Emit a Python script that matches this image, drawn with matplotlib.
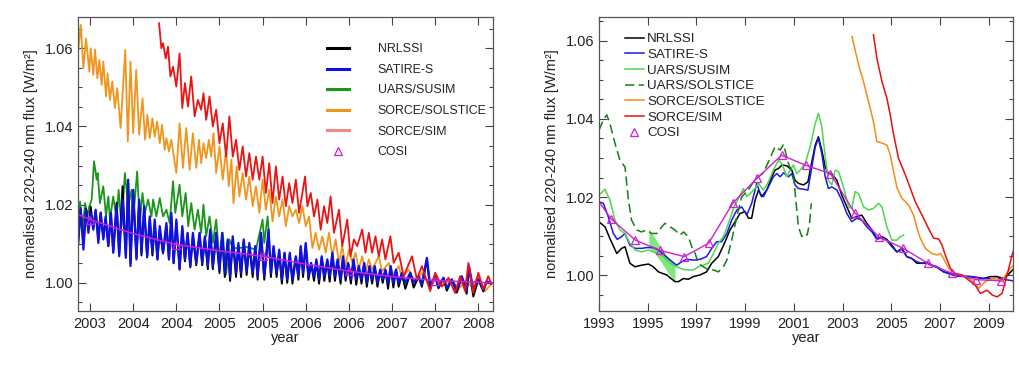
import matplotlib
matplotlib.use("Agg")
from matplotlib import pyplot as plt
from matplotlib.lines import Line2D
from matplotlib.ticker import MultipleLocator, FixedLocator

plt.rcParams['font.family'] = ['Liberation Sans', 'DejaVu Sans']

# ---------------- left panel: daily-ish data 2003-2008 ----------------
sat_years = [
    2002.862, 2002.892, 2002.923, 2002.954, 2002.981, 2003.008, 2003.038, 2003.065, 2003.096, 2003.123,
    2003.154, 2003.181, 2003.212, 2003.242, 2003.269, 2003.308, 2003.338, 2003.377, 2003.415, 2003.442,
    2003.469, 2003.500, 2003.538, 2003.569, 2003.596, 2003.627, 2003.662, 2003.692, 2003.723, 2003.750,
    2003.781, 2003.808, 2003.846, 2003.885, 2003.915, 2003.942, 2003.969, 2004.000, 2004.038, 2004.069,
    2004.100, 2004.131, 2004.162, 2004.192, 2004.231, 2004.269, 2004.300, 2004.331, 2004.365, 2004.392,
    2004.423, 2004.462, 2004.500, 2004.531, 2004.562, 2004.596, 2004.623, 2004.654, 2004.692, 2004.719,
    2004.750, 2004.781, 2004.815, 2004.846, 2004.885, 2004.915, 2004.942, 2004.981, 2005.019, 2005.069,
    2005.096, 2005.127, 2005.162, 2005.192, 2005.223, 2005.254, 2005.285, 2005.315, 2005.346, 2005.385,
    2005.415, 2005.442, 2005.469, 2005.500, 2005.531, 2005.562, 2005.596, 2005.623, 2005.654, 2005.685,
    2005.715, 2005.750, 2005.777, 2005.808, 2005.838, 2005.869, 2005.904, 2005.931, 2005.962, 2005.992,
    2006.023, 2006.054, 2006.085, 2006.115, 2006.146, 2006.177, 2006.208, 2006.238, 2006.269, 2006.300,
    2006.331, 2006.362, 2006.392, 2006.423, 2006.454, 2006.485, 2006.515, 2006.546, 2006.577, 2006.615,
    2006.654, 2006.712, 2006.750, 2006.808, 2006.846, 2006.904, 2006.942, 2007.000, 2007.038, 2007.096,
    2007.135, 2007.192, 2007.250, 2007.308, 2007.365, 2007.392, 2007.442, 2007.500, 2007.558, 2007.596,
    2007.646]
satire_l = [
    1.0098, 1.0191, 1.0085, 1.0187, 1.0128, 1.0179, 1.0136, 1.0187, 1.0102, 1.0179,
    1.0111, 1.0170, 1.0094, 1.0179, 1.0077, 1.0196, 1.0068, 1.0213, 1.0064, 1.0264,
    1.0043, 1.0238, 1.0060, 1.0213, 1.0077, 1.0196, 1.0068, 1.0170, 1.0077, 1.0162,
    1.0060, 1.0145, 1.0077, 1.0153, 1.0060, 1.0179, 1.0051, 1.0162, 1.0034, 1.0145,
    1.0060, 1.0128, 1.0043, 1.0128, 1.0051, 1.0128, 1.0051, 1.0119, 1.0043, 1.0136,
    1.0043, 1.0128, 1.0034, 1.0128, 1.0026, 1.0111, 1.0017, 1.0119, 1.0026, 1.0102,
    1.0026, 1.0111, 1.0030, 1.0102, 1.0026, 1.0094, 1.0017, 1.0128, 1.0017, 1.0136,
    1.0026, 1.0094, 1.0026, 1.0085, 1.0009, 1.0077, 1.0009, 1.0077, 1.0009, 1.0068,
    1.0017, 1.0094, 1.0026, 1.0102, 1.0017, 1.0051, 1.0017, 1.0060, 1.0009, 1.0068,
    1.0017, 1.0060, 1.0017, 1.0077, 1.0017, 1.0060, 1.0009, 1.0068, 1.0017, 1.0051,
    1.0009, 1.0060, 1.0009, 1.0043, 1.0009, 1.0051, 1.0000, 1.0043, 1.0009, 1.0043,
    1.0000, 1.0034, 1.0009, 1.0034, 1.0000, 1.0043, 1.0000, 1.0034, 1.0000, 1.0026,
    1.0000, 1.0026, 1.0000, 1.0017, 0.9996, 1.0064, 0.9991, 1.0017, 0.9991, 1.0013,
    0.9987, 1.0009, 0.9983, 1.0017, 0.9979, 1.0043, 0.9983, 1.0009, 0.9983, 1.0004,
    1.0000]
nrlssi_l = [
    1.0105, 1.0185, 1.0100, 1.0190, 1.0140, 1.0195, 1.0140, 1.0185, 1.0110, 1.0180,
    1.0115, 1.0165, 1.0095, 1.0175, 1.0080, 1.0205, 1.0075, 1.0247, 1.0070, 1.0255,
    1.0050, 1.0235, 1.0065, 1.0210, 1.0070, 1.0190, 1.0065, 1.0160, 1.0070, 1.0150,
    1.0060, 1.0135, 1.0075, 1.0145, 1.0060, 1.0170, 1.0050, 1.0155, 1.0035, 1.0140,
    1.0055, 1.0125, 1.0040, 1.0120, 1.0045, 1.0125, 1.0045, 1.0115, 1.0035, 1.0130,
    1.0035, 1.0120, 1.0025, 1.0120, 1.0015, 1.0105, 1.0005, 1.0110, 1.0015, 1.0095,
    1.0015, 1.0105, 1.0020, 1.0095, 1.0015, 1.0090, 1.0008, 1.0125, 1.0008, 1.0130,
    1.0015, 1.0090, 1.0015, 1.0080, 0.9998, 1.0075, 1.0000, 1.0072, 0.9998, 1.0065,
    1.0008, 1.0090, 1.0015, 1.0098, 1.0008, 1.0048, 1.0005, 1.0055, 0.9998, 1.0063,
    1.0005, 1.0055, 1.0003, 1.0070, 1.0005, 1.0055, 0.9998, 1.0062, 1.0005, 1.0048,
    0.9998, 1.0058, 0.9995, 1.0040, 0.9998, 1.0048, 0.9990, 1.0040, 0.9998, 1.0040,
    0.9990, 1.0032, 1.0000, 1.0032, 0.9985, 1.0040, 0.9988, 1.0032, 0.9990, 1.0022,
    0.9985, 1.0024, 0.9988, 1.0015, 0.9990, 1.0060, 0.9985, 1.0015, 0.9986, 1.0012,
    0.9980, 1.0008, 0.9975, 1.0015, 0.9972, 1.0040, 0.9965, 1.0008, 0.9978, 1.0003,
    0.9998]

susim_l_years = [
    2002.862, 2002.885, 2002.915, 2002.942, 2002.969, 2002.992, 2003.019, 2003.046, 2003.077, 2003.088,
    2003.115, 2003.154, 2003.185, 2003.212, 2003.231, 2003.269, 2003.308, 2003.331, 2003.365, 2003.404,
    2003.442, 2003.481, 2003.500, 2003.546, 2003.577, 2003.608, 2003.635, 2003.673, 2003.712, 2003.731,
    2003.769, 2003.808, 2003.846, 2003.885, 2003.923, 2003.962, 2003.988, 2004.038, 2004.069, 2004.108,
    2004.138, 2004.173, 2004.212, 2004.250, 2004.288, 2004.315, 2004.346, 2004.385, 2004.423, 2004.462,
    2004.500, 2004.538, 2004.577, 2004.615, 2004.654, 2004.731, 2004.808, 2004.923, 2005.000, 2005.019,
    2005.058, 2005.069]
susim_l = [
    1.0145, 1.0208, 1.0136, 1.0204, 1.0170, 1.0196, 1.0213, 1.0311, 1.0264, 1.0281,
    1.0204, 1.0247, 1.0170, 1.0221, 1.0162, 1.0221, 1.0162, 1.0238, 1.0145, 1.0281,
    1.0196, 1.0238, 1.0162, 1.0285, 1.0153, 1.0230, 1.0179, 1.0213, 1.0170, 1.0213,
    1.0170, 1.0217, 1.0170, 1.0187, 1.0153, 1.0260, 1.0179, 1.0251, 1.0170, 1.0230,
    1.0145, 1.0204, 1.0136, 1.0187, 1.0128, 1.0200, 1.0119, 1.0170, 1.0102, 1.0162,
    1.0060, 1.0128, 1.0021, 1.0111, 1.0089, 1.0089, 1.0092, 1.0085, 1.0162, 1.0102,
    1.0170, 1.0136]

solstice_l_years = [
    2002.862, 2002.892, 2002.923, 2002.954, 2002.992, 2003.008, 2003.038, 2003.058, 2003.085, 2003.108,
    2003.135, 2003.154, 2003.185, 2003.204, 2003.231, 2003.258, 2003.288, 2003.315, 2003.354, 2003.408,
    2003.438, 2003.469, 2003.500, 2003.535, 2003.569, 2003.608, 2003.638, 2003.665, 2003.692, 2003.723,
    2003.750, 2003.777, 2003.808, 2003.835, 2003.865, 2003.885, 2003.915, 2003.942, 2004.000, 2004.038,
    2004.077, 2004.115, 2004.154, 2004.192, 2004.231, 2004.262, 2004.288, 2004.315, 2004.346, 2004.377,
    2004.404, 2004.431, 2004.462, 2004.500, 2004.538, 2004.577, 2004.608, 2004.638, 2004.662, 2004.700,
    2004.731, 2004.769, 2004.808, 2004.846, 2004.885, 2004.923, 2004.962, 2005.000, 2005.038, 2005.077,
    2005.115, 2005.154, 2005.192, 2005.231, 2005.269, 2005.308, 2005.346, 2005.385, 2005.423, 2005.462,
    2005.500, 2005.538, 2005.577, 2005.615, 2005.654, 2005.692, 2005.731, 2005.769, 2005.808, 2005.846,
    2005.885, 2005.923, 2005.962, 2006.000, 2006.038, 2006.077, 2006.115, 2006.154, 2006.192, 2006.231,
    2006.269, 2006.346, 2006.385, 2006.462, 2006.500, 2006.577, 2006.615, 2006.692, 2006.769, 2006.846,
    2006.923, 2007.000, 2007.077, 2007.192, 2007.269, 2007.346, 2007.423, 2007.500, 2007.577, 2007.646]
solstice_l = [
    1.0591, 1.0660, 1.0549, 1.0625, 1.0540, 1.0600, 1.0532, 1.0597, 1.0523, 1.0570,
    1.0506, 1.0566, 1.0477, 1.0536, 1.0468, 1.0515, 1.0447, 1.0498, 1.0396, 1.0596,
    1.0362, 1.0566, 1.0383, 1.0545, 1.0379, 1.0472, 1.0366, 1.0430, 1.0370, 1.0421,
    1.0374, 1.0413, 1.0357, 1.0404, 1.0340, 1.0370, 1.0336, 1.0366, 1.0281, 1.0408,
    1.0294, 1.0396, 1.0289, 1.0383, 1.0294, 1.0366, 1.0306, 1.0357, 1.0319, 1.0366,
    1.0323, 1.0383, 1.0281, 1.0349, 1.0264, 1.0340, 1.0247, 1.0315, 1.0204, 1.0298,
    1.0221, 1.0281, 1.0213, 1.0272, 1.0196, 1.0247, 1.0179, 1.0264, 1.0187, 1.0238,
    1.0157, 1.0221, 1.0170, 1.0213, 1.0145, 1.0196, 1.0170, 1.0187, 1.0153, 1.0196,
    1.0145, 1.0170, 1.0089, 1.0128, 1.0085, 1.0119, 1.0077, 1.0128, 1.0068, 1.0111,
    1.0051, 1.0094, 1.0043, 1.0085, 1.0051, 1.0077, 1.0034, 1.0068, 1.0026, 1.0060,
    1.0034, 1.0068, 1.0030, 1.0051, 1.0017, 1.0043, 1.0013, 1.0034, 1.0000, 1.0026,
    0.9996, 1.0017, 0.9991, 1.0009, 0.9983, 1.0004, 0.9991, 1.0017, 0.9979, 0.9996]

sim_l_years = [
    2003.800, 2003.827, 2003.846, 2003.877, 2003.904, 2003.931, 2003.962, 2004.000, 2004.038, 2004.069,
    2004.100, 2004.135, 2004.173, 2004.212, 2004.250, 2004.288, 2004.315, 2004.346, 2004.385, 2004.423,
    2004.462, 2004.500, 2004.538, 2004.577, 2004.615, 2004.654, 2004.692, 2004.731, 2004.769, 2004.808,
    2004.846, 2004.885, 2004.923, 2004.962, 2005.000, 2005.038, 2005.077, 2005.115, 2005.154, 2005.192,
    2005.231, 2005.269, 2005.308, 2005.346, 2005.385, 2005.423, 2005.492, 2005.519, 2005.558, 2005.596,
    2005.635, 2005.673, 2005.712, 2005.750, 2005.788, 2005.827, 2005.885, 2005.923, 2005.981, 2006.019,
    2006.058, 2006.096, 2006.154, 2006.192, 2006.231, 2006.269, 2006.308, 2006.346, 2006.385, 2006.423,
    2006.481, 2006.519, 2006.577, 2006.635, 2006.731, 2006.788, 2006.846, 2006.942, 2007.000, 2007.077,
    2007.154, 2007.231, 2007.288, 2007.346, 2007.385, 2007.442, 2007.500, 2007.558, 2007.615, 2007.646]
sim_l = [
    1.0664, 1.0600, 1.0613, 1.0574, 1.0604, 1.0528, 1.0553, 1.0502, 1.0587, 1.0447,
    1.0511, 1.0451, 1.0528, 1.0426, 1.0468, 1.0443, 1.0485, 1.0417, 1.0477, 1.0400,
    1.0443, 1.0357, 1.0408, 1.0323, 1.0426, 1.0323, 1.0366, 1.0289, 1.0349, 1.0272,
    1.0332, 1.0264, 1.0323, 1.0264, 1.0323, 1.0230, 1.0306, 1.0204, 1.0298, 1.0213,
    1.0272, 1.0196, 1.0255, 1.0204, 1.0264, 1.0179, 1.0272, 1.0196, 1.0230, 1.0170,
    1.0213, 1.0136, 1.0196, 1.0153, 1.0221, 1.0128, 1.0187, 1.0094, 1.0162, 1.0068,
    1.0111, 1.0094, 1.0136, 1.0077, 1.0128, 1.0077, 1.0119, 1.0068, 1.0111, 1.0060,
    1.0119, 1.0051, 1.0077, 1.0017, 1.0068, 1.0009, 1.0043, 0.9979, 1.0026, 0.9991,
    1.0013, 0.9974, 1.0017, 0.9979, 1.0051, 0.9974, 1.0026, 0.9983, 1.0017, 1.0000]

cosi_l_years = [2002.86, 2003.0, 2003.5, 2004.0, 2004.5, 2005.0, 2005.5, 2006.0, 2006.5, 2007.0, 2007.67]
cosi_l = [1.0175, 1.0162, 1.0126, 1.0098, 1.0082, 1.0068, 1.0048, 1.0030, 1.0016, 1.0006, 1.0000]

left_ticks = [2003.0, 2003.5, 2004.0, 2004.5, 2005.0, 2005.5, 2006.0, 2006.5, 2007.0, 2007.5]
left_ticklabels = ['2003', '2004', '2004', '2005', '2005', '2006', '2006', '2007', '2007', '2008']

# ---------------- right panel: smoothed 1993-2010 ----------------
nrl_r_years = [
    1993.00, 1993.25, 1993.45, 1993.73, 1993.93, 1994.07, 1994.27, 1994.48, 1994.75, 1995.03,
    1995.23, 1995.44, 1995.78, 1996.12, 1996.26, 1996.47, 1996.67, 1996.88, 1997.15, 1997.42,
    1997.63, 1997.90, 1998.18, 1998.38, 1998.59, 1998.79, 1999.00, 1999.14, 1999.27, 1999.41,
    1999.55, 1999.68, 1999.89, 2000.10, 2000.23, 2000.37, 2000.51, 2000.71, 2000.92, 2001.05,
    2001.19, 2001.40, 2001.58, 2001.74, 2001.88, 2002.01, 2002.15, 2002.29, 2002.42, 2002.56,
    2002.77, 2002.97, 2003.18, 2003.38, 2003.59, 2003.79, 2004.00, 2004.21, 2004.41, 2004.62,
    2004.82, 2005.03, 2005.23, 2005.44, 2005.64, 2005.85, 2006.05, 2006.26, 2006.47, 2006.67,
    2006.88, 2007.15, 2007.42, 2007.70, 2007.97, 2008.25, 2008.52, 2008.79, 2009.07, 2009.34,
    2009.62, 2009.82, 2010.00]
nrl_r = [
    1.0137, 1.0124, 1.0094, 1.0056, 1.0069, 1.0073, 1.0031, 1.0022, 1.0026, 1.0029,
    1.0022, 1.0009, 1.0001, 0.9984, 0.9984, 0.9992, 0.9990, 0.9997, 1.0001, 1.0009,
    1.0031, 1.0048, 1.0086, 1.0116, 1.0137, 1.0158, 1.0163, 1.0146, 1.0146, 1.0192,
    1.0218, 1.0201, 1.0218, 1.0252, 1.0269, 1.0273, 1.0282, 1.0280, 1.0269, 1.0243,
    1.0235, 1.0231, 1.0239, 1.0290, 1.0333, 1.0354, 1.0320, 1.0277, 1.0260, 1.0260,
    1.0243, 1.0205, 1.0175, 1.0146, 1.0150, 1.0154, 1.0133, 1.0116, 1.0094, 1.0099,
    1.0092, 1.0077, 1.0060, 1.0069, 1.0048, 1.0043, 1.0031, 1.0031, 1.0033, 1.0026,
    1.0022, 1.0009, 1.0005, 1.0001, 0.9998, 0.9997, 0.9995, 0.9992, 0.9997, 0.9997,
    0.9992, 1.0003, 1.0015]

sat_r_years = [
    1993.00, 1993.18, 1993.38, 1993.59, 1993.75, 1993.93, 1994.07, 1994.27, 1994.48, 1994.75,
    1994.96, 1995.23, 1995.44, 1995.64, 1995.92, 1996.19, 1996.40, 1996.60, 1996.88, 1997.15,
    1997.42, 1997.63, 1997.84, 1998.04, 1998.25, 1998.45, 1998.66, 1998.86, 1999.07, 1999.27,
    1999.48, 1999.62, 1999.75, 1999.96, 2000.16, 2000.30, 2000.44, 2000.58, 2000.78, 2000.92,
    2001.05, 2001.19, 2001.40, 2001.58, 2001.74, 2001.88, 2002.01, 2002.15, 2002.29, 2002.42,
    2002.56, 2002.77, 2002.97, 2003.18, 2003.38, 2003.59, 2003.79, 2004.00, 2004.21, 2004.41,
    2004.62, 2004.82, 2005.03, 2005.23, 2005.44, 2005.64, 2005.85, 2006.05, 2006.26, 2006.47,
    2006.67, 2006.88, 2007.15, 2007.42, 2007.70, 2007.97, 2008.25, 2008.52, 2008.79, 2009.07,
    2009.34, 2009.62, 2010.00]
sat_r = [
    1.0188, 1.0184, 1.0150, 1.0107, 1.0092, 1.0099, 1.0107, 1.0077, 1.0069, 1.0069,
    1.0071, 1.0071, 1.0065, 1.0054, 1.0039, 1.0026, 1.0035, 1.0041, 1.0039, 1.0041,
    1.0048, 1.0069, 1.0086, 1.0086, 1.0107, 1.0141, 1.0167, 1.0175, 1.0154, 1.0184,
    1.0235, 1.0209, 1.0201, 1.0226, 1.0252, 1.0260, 1.0252, 1.0262, 1.0252, 1.0260,
    1.0231, 1.0222, 1.0220, 1.0218, 1.0277, 1.0328, 1.0350, 1.0311, 1.0252, 1.0222,
    1.0226, 1.0218, 1.0192, 1.0158, 1.0137, 1.0146, 1.0141, 1.0124, 1.0111, 1.0092,
    1.0097, 1.0089, 1.0073, 1.0060, 1.0066, 1.0048, 1.0043, 1.0035, 1.0031, 1.0031,
    1.0025, 1.0020, 1.0009, 1.0003, 0.9998, 0.9997, 0.9997, 0.9994, 0.9992, 0.9992,
    0.9992, 0.9990, 0.9986]

susim_r_years = [
    1993.00, 1993.25, 1993.45, 1993.66, 1993.86, 1994.07, 1994.27, 1994.48, 1994.75, 1995.03,
    1995.23, 1995.44, 1995.64, 1995.92, 1996.19, 1996.47, 1996.67, 1996.88, 1997.08, 1997.29,
    1997.49, 1997.70, 1997.90, 1998.11, 1998.32, 1998.52, 1998.73, 1998.93, 1999.07, 1999.21,
    1999.41, 1999.55, 1999.75, 1999.96, 2000.16, 2000.37, 2000.51, 2000.71, 2000.85, 2000.99,
    2001.12, 2001.26, 2001.47, 2001.67, 2001.88, 2002.01, 2002.15, 2002.29, 2002.42, 2002.56,
    2002.70, 2002.84, 2003.04, 2003.25, 2003.38, 2003.52, 2003.66, 2003.86, 2004.07, 2004.27,
    2004.48, 2004.62, 2004.82, 2005.03, 2005.23, 2005.37, 2005.51]
susim_r = [
    1.0205, 1.0220, 1.0192, 1.0141, 1.0116, 1.0107, 1.0082, 1.0065, 1.0060, 1.0065,
    1.0060, 1.0056, 1.0048, 1.0031, 1.0022, 1.0015, 1.0014, 1.0014, 1.0022, 1.0026,
    1.0031, 1.0056, 1.0082, 1.0099, 1.0133, 1.0171, 1.0197, 1.0222, 1.0201, 1.0209,
    1.0222, 1.0235, 1.0218, 1.0239, 1.0269, 1.0294, 1.0286, 1.0252, 1.0269, 1.0282,
    1.0260, 1.0269, 1.0286, 1.0328, 1.0388, 1.0414, 1.0380, 1.0303, 1.0243, 1.0231,
    1.0269, 1.0265, 1.0226, 1.0175, 1.0171, 1.0214, 1.0209, 1.0175, 1.0167, 1.0171,
    1.0184, 1.0175, 1.0124, 1.0090, 1.0090, 1.0099, 1.0103]

# shaded band 1995-1996
band_years = [1995.05, 1995.30, 1995.60, 1995.85, 1996.12]
band_top = [1.0118, 1.0095, 1.0065, 1.0045, 1.0031]
band_bottom = [1.0072, 1.0055, 1.0030, 1.0005, 0.9984]

uars_sol_years = [
    1993.00, 1993.18, 1993.32, 1993.45, 1993.66, 1993.86, 1994.07, 1994.21, 1994.34, 1994.55,
    1994.75, 1994.96, 1995.16, 1995.37, 1995.58, 1995.71, 1995.92, 1996.12, 1996.33, 1996.47,
    1996.67, 1996.81, 1996.95, 1997.08, 1997.29, 1997.49, 1997.70, 1997.90, 1998.11, 1998.25,
    1998.45, 1998.66, 1998.86, 1999.10, 1999.41, 1999.75, 1999.96, 2000.23, 2000.44, 2000.58,
    2000.78, 2000.99, 2001.05, 2001.19, 2001.33, 2001.45, 2001.55, 2001.65, 2001.72]
uars_sol = [
    1.0371, 1.0397, 1.0410, 1.0388, 1.0337, 1.0294, 1.0277, 1.0192, 1.0141, 1.0116,
    1.0111, 1.0116, 1.0107, 1.0107, 1.0124, 1.0133, 1.0124, 1.0116, 1.0103, 1.0111,
    1.0099, 1.0073, 1.0056, 1.0031, 1.0022, 1.0014, 1.0014, 1.0009, 1.0022, 1.0039,
    1.0090, 1.0150, 1.0201, 1.0215, 1.0245, 1.0262, 1.0290, 1.0329, 1.0320, 1.0335,
    1.0286, 1.0255, 1.0215, 1.0124, 1.0099, 1.0107, 1.0103, 1.0135, 1.0184]

sorce_sol_years = [
    2003.39, 2003.66, 2003.86, 2004.07, 2004.27, 2004.41, 2004.62, 2004.82, 2004.96, 2005.10,
    2005.24, 2005.44, 2005.71, 2005.92, 2006.06, 2006.19, 2006.40, 2006.67, 2006.88, 2007.02,
    2007.15, 2007.36, 2007.56, 2007.91, 2008.18, 2008.38, 2008.59, 2008.86, 2009.14, 2009.35,
    2009.55, 2009.69, 2009.89, 2010.10]
sorce_sol = [
    1.0610, 1.0538, 1.0495, 1.0444, 1.0393, 1.0342, 1.0338, 1.0333, 1.0308, 1.0265,
    1.0223, 1.0197, 1.0180, 1.0154, 1.0120, 1.0095, 1.0069, 1.0056, 1.0052, 1.0056,
    1.0043, 1.0018, 1.0005, 1.0001, 0.9992, 0.9984, 0.9967, 0.9984, 0.9992, 0.9992,
    0.9984, 1.0001, 1.0018, 1.0031]

sorce_sim_years = [
    2004.27, 2004.41, 2004.62, 2004.82, 2004.96, 2005.10, 2005.30, 2005.58, 2005.78, 2005.99,
    2006.19, 2006.33, 2006.53, 2006.74, 2006.95, 2007.08, 2007.22, 2007.43, 2007.63, 2007.91,
    2008.18, 2008.45, 2008.66, 2008.94, 2009.14, 2009.35, 2009.55, 2009.76, 2009.96, 2010.10]
sorce_sim = [
    1.0615, 1.0555, 1.0495, 1.0453, 1.0410, 1.0359, 1.0299, 1.0257, 1.0223, 1.0188,
    1.0163, 1.0146, 1.0120, 1.0095, 1.0093, 1.0078, 1.0052, 1.0018, 1.0005, 1.0001,
    0.9988, 0.9975, 0.9954, 0.9962, 0.9950, 0.9945, 0.9954, 1.0001, 1.0052, 1.0078]

cosi_r_years = [1993.0, 1993.5, 1994.5, 1995.5, 1996.5, 1997.5, 1998.5, 1999.5, 2000.5,
                2001.5, 2002.5, 2003.5, 2004.5, 2005.5, 2006.5, 2007.5, 2008.5, 2009.5]
cosi_r = [1.0188, 1.0144, 1.0090, 1.0064, 1.0048, 1.0082, 1.0185, 1.0249, 1.0307,
          1.0281, 1.0260, 1.0160, 1.0098, 1.0069, 1.0031, 1.0005, 0.9989, 0.9986]

right_ticks = [1993, 1995, 1997, 1999, 2001, 2003, 2005, 2007, 2009]

ylabel = 'normalised 220-240 nm flux [W/m²]'
c_text = '#222222'
magenta = '#d020d0'


def style_axes(ax):
    ax.tick_params(which='both', direction='in', top=True, right=True,
                   labelsize=10.5, colors='#444444', labelcolor=c_text)
    ax.tick_params(which='major', length=6, width=0.8)
    ax.tick_params(which='minor', length=3, width=0.8)
    ax.tick_params(axis='y', pad=3)
    ax.tick_params(axis='x', pad=4)
    ax.yaxis.set_major_locator(MultipleLocator(0.02))
    ax.yaxis.set_minor_locator(MultipleLocator(0.005))
    ax.yaxis.set_major_formatter('{x:.2f}')
    for s in ax.spines.values():
        s.set_color('#555555')
        s.set_linewidth(0.9)
    ax.set_xlabel('year', fontsize=10.5, color=c_text)
    ax.set_ylabel(ylabel, fontsize=10.5, color=c_text)
    ax.yaxis.set_label_coords(-0.097, 0.5)
    ax.xaxis.set_label_coords(0.5, -0.068)


def main():
    fig = plt.figure(figsize=(10.19, 3.67), dpi=100)

    # left panel
    ax1 = fig.add_axes([0.0765, 0.1526, 0.4073, 0.801])
    ax1.plot(susim_l_years, susim_l, color='#1a961a', lw=1.3)
    ax1.plot(solstice_l_years, solstice_l, color='#f0961e', lw=1.3)
    ax1.plot(sat_years, nrlssi_l, color='black', lw=1.4)
    ax1.plot(sat_years, satire_l, color='#1010e6', lw=1.6)
    ax1.plot(sim_l_years, sim_l, color='#ea1414', lw=1.3)
    ax1.plot(cosi_l_years, cosi_l, color=magenta, lw=1.1, marker='^', ms=5.5,
             mfc='none', mec=magenta, mew=0.9, markevery=[1, 3, 5, 7, 9])
    ax1.set_xlim(2002.86, 2007.67)
    ax1.set_ylim(0.9928, 1.068)
    ax1.xaxis.set_major_locator(FixedLocator(left_ticks))
    ax1.set_xticklabels(left_ticklabels)
    style_axes(ax1)

    handles = [Line2D([], [], color='black', lw=2.2),
               Line2D([], [], color='#1010e6', lw=2.2),
               Line2D([], [], color='#1a961a', lw=2.2),
               Line2D([], [], color='#f0961e', lw=2.2),
               Line2D([], [], color='#f08888', lw=2.2),
               Line2D([], [], color=magenta, lw=0, marker='^', ms=5.5,
                      mfc='none', mec=magenta, mew=0.9)]
    labels = ['NRLSSI', 'SATIRE-S', 'UARS/SUSIM', 'SORCE/SOLSTICE', 'SORCE/SIM', 'COSI']
    leg1 = ax1.legend(handles, labels, loc='upper left', bbox_to_anchor=(0.600, 0.911),
                      frameon=False, fontsize=8.9, handlelength=1.8, handletextpad=2.3,
                      labelspacing=0.7, borderpad=0, borderaxespad=0)
    for t in leg1.get_texts():
        t.set_color(c_text)

    # right panel
    ax2 = fig.add_axes([0.5878, 0.1526, 0.4063, 0.801])
    ax2.fill_between(band_years, band_bottom, band_top, color='#7ee87e', lw=0)
    l_nrl, = ax2.plot(nrl_r_years, nrl_r, color='black', lw=1.1)
    l_sat, = ax2.plot(sat_r_years, sat_r, color='#1a1ae6', lw=1.1)
    l_sus, = ax2.plot(susim_r_years, susim_r, color='#4ed64e', lw=1.1)
    l_usol, = ax2.plot(uars_sol_years, uars_sol, color='#137f13', lw=1.1, dashes=(6, 3))
    l_ssol, = ax2.plot(sorce_sol_years, sorce_sol, color='#f28c1a', lw=1.1)
    l_sim, = ax2.plot(sorce_sim_years, sorce_sim, color='#e61010', lw=1.1)
    l_cosi, = ax2.plot(cosi_r_years, cosi_r, color=magenta, lw=1.0, marker='^', ms=5.5,
                       mfc='none', mec=magenta, mew=0.9, markevery=slice(1, None))
    ax2.set_xlim(1993, 2010)
    ax2.set_ylim(0.9909, 1.066)
    ax2.xaxis.set_major_locator(FixedLocator(right_ticks))
    style_axes(ax2)

    cosi_handle = Line2D([], [], color=magenta, lw=0, marker='^', ms=5.5,
                         mfc='none', mec=magenta, mew=0.9)
    leg2 = ax2.legend([l_nrl, l_sat, l_sus, l_usol, l_ssol, l_sim, cosi_handle],
                      ['NRLSSI', 'SATIRE-S', 'UARS/SUSIM', 'UARS/SOLSTICE',
                       'SORCE/SOLSTICE', 'SORCE/SIM', 'COSI'],
                      loc='upper left', bbox_to_anchor=(0.063, 0.946), frameon=False,
                      fontsize=9.6, handlelength=1.4, handletextpad=0.25,
                      labelspacing=0.25, borderpad=0, borderaxespad=0)
    for t in leg2.get_texts():
        t.set_color(c_text)

    fig.savefig("out.png", dpi=100)


if __name__ == "__main__":
    main()
